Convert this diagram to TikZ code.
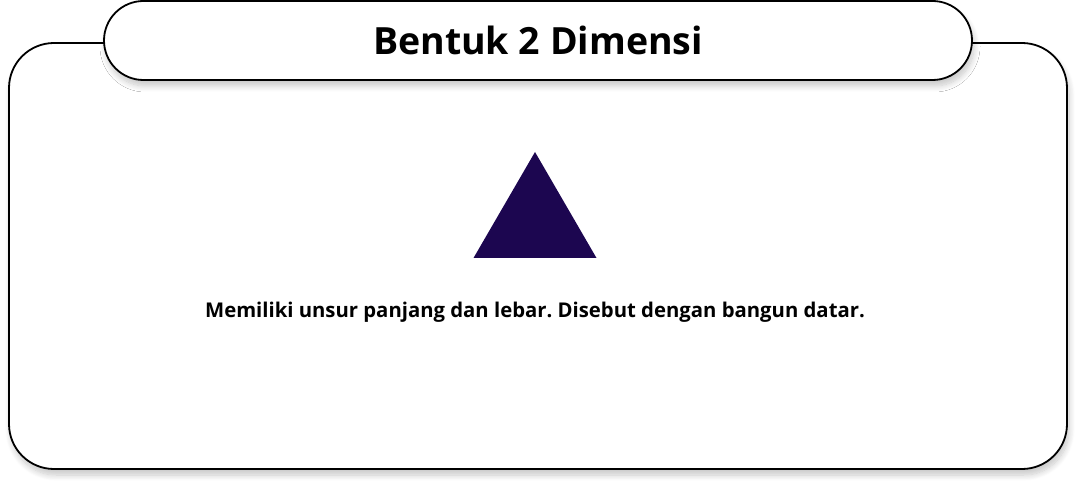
\documentclass[tikz,border=0pt]{standalone}
\usepackage{fontspec}
\setmainfont{Open Sans}
\usetikzlibrary{shadows.blur}
\definecolor{tri}{HTML}{1C0650}
\frenchspacing
\tikzset{
  panel/.style={draw=black, line width=1.8pt, fill=white, inner sep=0pt,
    blur shadow={shadow xshift=2pt, shadow yshift=-6pt, shadow blur steps=10, shadow blur radius=6pt, shadow opacity=22}},
}
\begin{document}
\begin{tikzpicture}[x=1pt,y=-1pt]
\useasboundingbox (0,0) rectangle (1076,486);
\node[panel, rounded corners=45pt, minimum width=1058pt, minimum height=426pt] (outer) at (538,256) {};
\node[panel, rounded corners=39.5pt, minimum width=868pt, minimum height=79pt,
  font=\fontsize{37.5}{40}\selectfont\bfseries] (title) at (538,40.5) {Bentuk 2 Dimensi};
\fill[tri] (535,152) -- (596.5,258) -- (473.5,258) -- cycle;
\node[font=\fontsize{20.3}{24}\selectfont\bfseries] (desc) at (535,312) {Memiliki unsur panjang dan lebar. Disebut dengan bangun datar.};
\end{tikzpicture}
\end{document}
